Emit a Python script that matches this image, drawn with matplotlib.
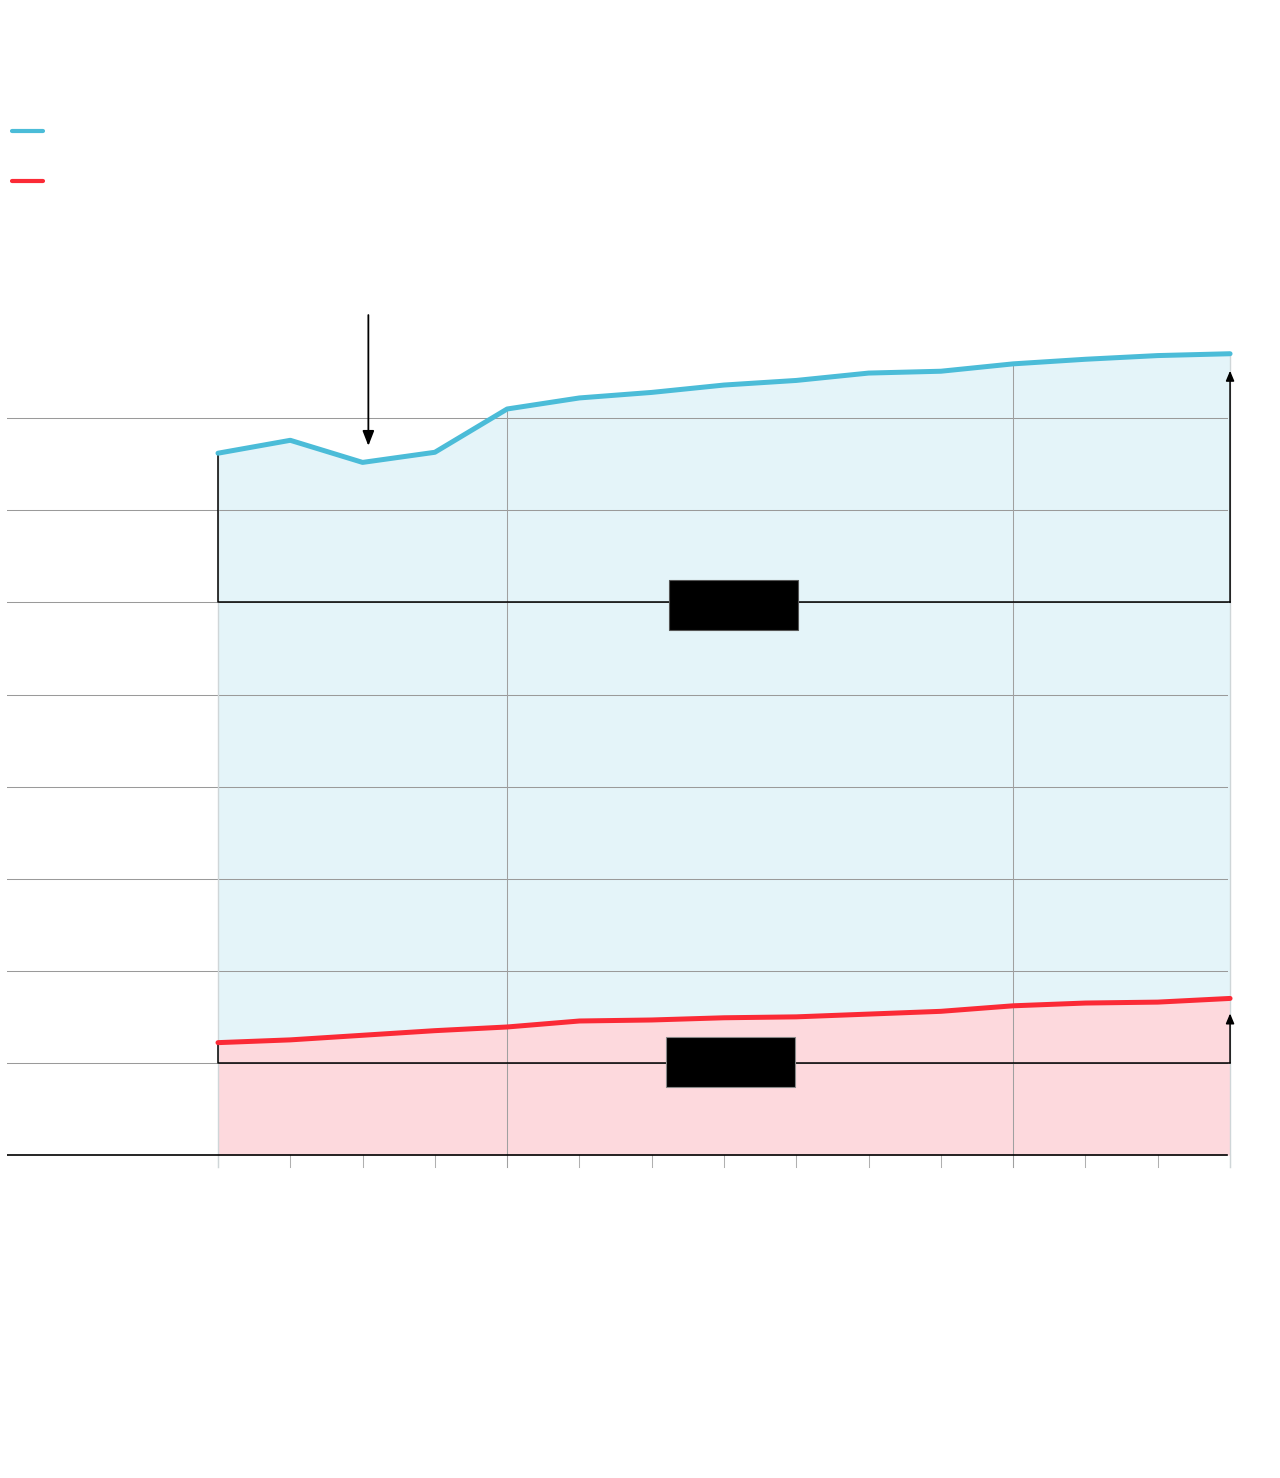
import matplotlib.pyplot as plt
from matplotlib.lines import Line2D
from matplotlib.patches import Rectangle

# periods along the x axis (unlabelled in the source)
periods = list(range(15))
blue_series = [7.62, 7.76, 7.52, 7.63, 8.10, 8.22, 8.28, 8.36, 8.41, 8.49,
               8.51, 8.59, 8.64, 8.68, 8.70]
red_series = [1.22, 1.25, 1.30, 1.35, 1.39, 1.455, 1.466, 1.49, 1.50, 1.53,
              1.56, 1.62, 1.65, 1.66, 1.70]
grid_values = [1, 2, 3, 4, 5, 6, 7, 8]
period_marks = [0, 4, 11, 14]
blue_base = 6.0
red_base = 1.0
dip_period = 2.08

BLUE = "#4bbcd8"
RED = "#fb2a36"
BLUE_FILL = "#e4f4f9"
RED_FILL = "#fdd9dd"


def main() -> None:
    fig = plt.figure(figsize=(12.8, 14.78), dpi=100)
    W, H = 1280, 1478
    ax = fig.add_axes([7 / W, 1 - 1180 / H, (1235 - 7) / W, (1180 - 290) / H])
    ax.set_xlim((7 - 218) / 72.29, (1235 - 218) / 72.29)
    ax.set_ylim(-25 / 92.1, 865 / 92.1)
    ax.axis("off")

    x_left = (7 - 218) / 72.29
    x_right = (1227 - 218) / 72.29

    # area fills
    ax.fill_between(periods, 0, red_series, color=RED_FILL, lw=0, zorder=1)
    ax.fill_between(periods, red_series, blue_series, color=BLUE_FILL, lw=0, zorder=1)

    # horizontal grid
    for g in grid_values:
        ax.plot([x_left, x_right], [g, g], color="#9a9a9a", lw=0.75, zorder=2)
    ax.plot([x_left, x_right], [0, 0], color="black", lw=1.2, zorder=4)

    # vertical period marks inside the filled area + ticks below
    for p in periods:
        ax.plot([p, p], [0, -12 / 92.1], color="#b0b0b0", lw=0.75, zorder=2)
    for p in period_marks:
        edge = p in (0, 14)
        ax.plot([p, p], [-12 / 92.1, blue_series[p]],
                color="#cfd6d8" if edge else "#a0a0a0", lw=1.0 if edge else 0.75,
                zorder=2)

    # series lines
    ax.plot(periods, blue_series, color=BLUE, lw=3.6, solid_capstyle="round", zorder=5)
    ax.plot(periods, red_series, color=RED, lw=3.6, solid_capstyle="round", zorder=5)

    # change brackets
    ax.plot([0, 0, 14], [blue_series[0], blue_base, blue_base], color="black", lw=1.1, zorder=4)
    ax.annotate("", xy=(14, blue_series[-1] - 17 / 92.1), xytext=(14, blue_base),
                arrowprops=dict(arrowstyle="-|>,head_length=0.6,head_width=0.25",
                                color="black", lw=1.1, shrinkA=0, shrinkB=0), zorder=4)
    ax.plot([0, 0, 14], [red_series[0], red_base, red_base], color="black", lw=1.1, zorder=4)
    ax.annotate("", xy=(14, red_series[-1] - 15 / 92.1), xytext=(14, red_base),
                arrowprops=dict(arrowstyle="-|>,head_length=0.6,head_width=0.25",
                                color="black", lw=1.1, shrinkA=0, shrinkB=0), zorder=4)

    # label boxes
    ax.add_patch(Rectangle((6.24, 5.70), 1.78, 0.54, facecolor="black",
                           edgecolor="#555555", lw=0.8, zorder=6))
    ax.add_patch(Rectangle((6.20, 0.74), 1.78, 0.54, facecolor="black",
                           edgecolor="#888888", lw=0.8, zorder=6))

    # dip arrow
    ax.annotate("", xy=(dip_period, 7.70), xytext=(dip_period, 9.12),
                arrowprops=dict(arrowstyle="-|>,head_length=0.9,head_width=0.35",
                                color="black", lw=1.3, shrinkA=0, shrinkB=0), zorder=6)

    # legend swatches
    for y_px, col in [(131, BLUE), (181, RED)]:
        fig.add_artist(Line2D([12 / W, 43 / W], [1 - y_px / H, 1 - y_px / H],
                              color=col, lw=3.0, solid_capstyle="round"))

    fig.savefig("out.png", dpi=100, facecolor="white")
    plt.close(fig)


if __name__ == "__main__":
    main()
